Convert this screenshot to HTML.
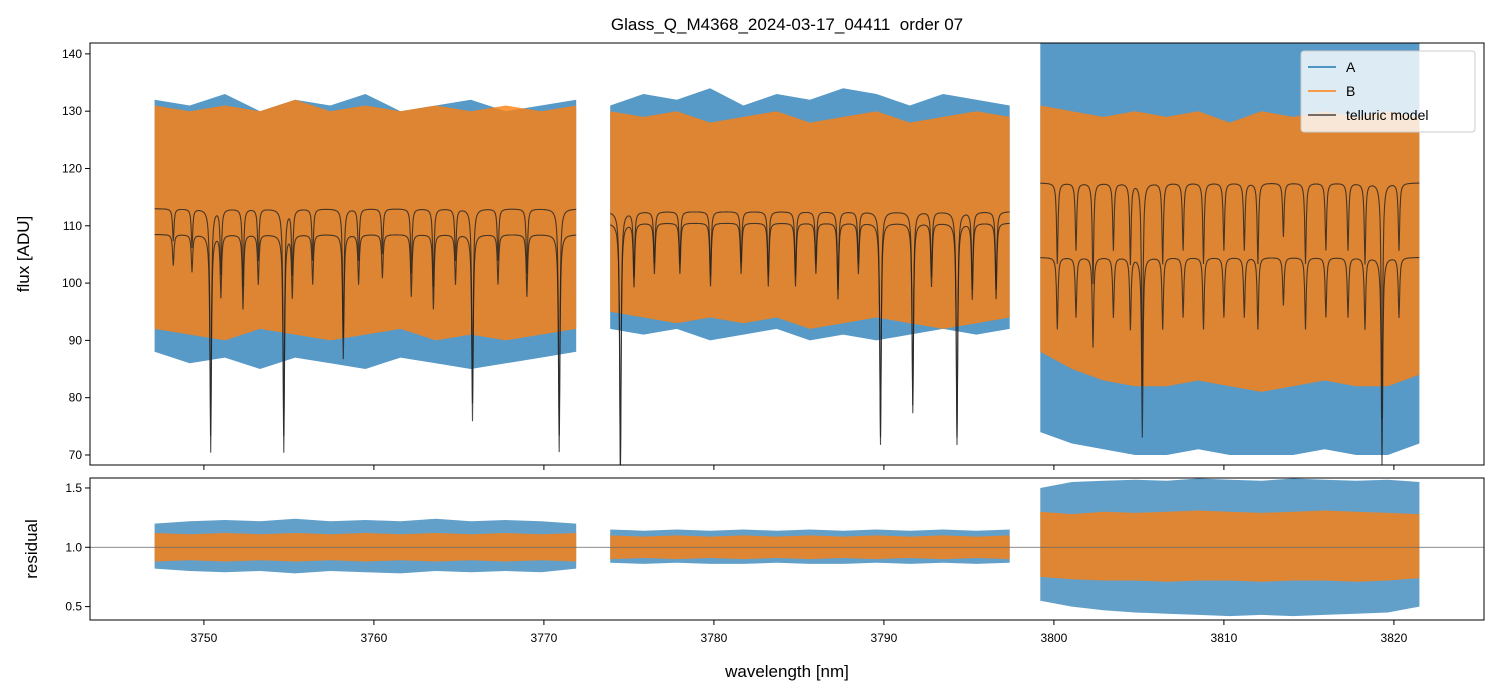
<!DOCTYPE html>
<html><head><meta charset="utf-8"><style>
body{margin:0;background:#fff;}
svg{display:block;font-family:"Liberation Sans","DejaVu Sans",sans-serif;}
</style></head><body>
<svg id="chart" width="1499" height="696" viewBox="0 0 1499 696">
<text x="787" y="30" text-anchor="middle" font-size="17" style="white-space:pre">Glass_Q_M4368_2024-03-17_04411  order 07</text>
<g id="gtop"></g>
<g id="gbot"></g>
<text x="787" y="677" text-anchor="middle" font-size="17">wavelength [nm]</text>
<text transform="translate(29,254) rotate(-90)" text-anchor="middle" font-size="17">flux [ADU]</text>
<text transform="translate(37,549) rotate(-90)" text-anchor="middle" font-size="17">residual</text>
</svg>
<script>
// ---- data (per segment, evenly sampled envelopes) ----
const segments = [[3747.1,3771.9],[3773.9,3797.4],[3799.2,3821.5]];
const fluxAHi = [[132,131,133,130,132,131,133,130,131,132,130,131,132],[131,133,132,134,131,133,132,134,133,131,133,132,131],[142,142,142,142,142,142,142,142,142,142,142,142,142]];
const fluxALo = [[88,86,87,85,87,86,85,87,86,85,86,87,88],[92,91,92,90,91,92,90,91,90,91,92,91,92],[74,72,71,70,70,71,70,70,70,71,70,70,72]];
const fluxBHi = [[131,130,131,130,132,130,131,130,131,130,131,130,131],[130,129,130,128,129,130,128,129,130,128,129,130,129],[131,130,129,130,129,130,128,130,129,130,129,130,129]];
const fluxBLo = [[92,91,90,92,91,90,91,92,90,91,90,91,92],[95,94,93,94,93,94,92,93,94,93,92,93,94],[88,85,83,82,82,83,82,81,82,83,82,82,84]];
const resAHi = [[1.2,1.22,1.23,1.22,1.24,1.22,1.23,1.22,1.24,1.22,1.23,1.22,1.2],[1.15,1.14,1.15,1.14,1.15,1.14,1.15,1.14,1.15,1.14,1.15,1.14,1.15],[1.5,1.55,1.56,1.57,1.56,1.58,1.57,1.56,1.58,1.57,1.56,1.57,1.55]];
const resALo = [[0.82,0.8,0.79,0.8,0.78,0.8,0.79,0.78,0.8,0.79,0.8,0.79,0.82],[0.87,0.86,0.87,0.86,0.86,0.87,0.86,0.86,0.87,0.86,0.87,0.86,0.87],[0.55,0.5,0.47,0.45,0.44,0.43,0.42,0.43,0.42,0.43,0.44,0.45,0.5]];
const resBHi = [[1.12,1.11,1.12,1.11,1.12,1.11,1.12,1.11,1.12,1.11,1.12,1.11,1.12],[1.1,1.09,1.1,1.09,1.1,1.09,1.1,1.09,1.1,1.09,1.1,1.09,1.1],[1.3,1.28,1.3,1.29,1.3,1.31,1.3,1.29,1.3,1.31,1.3,1.29,1.28]];
const resBLo = [[0.88,0.89,0.88,0.89,0.88,0.89,0.88,0.89,0.88,0.89,0.88,0.89,0.88],[0.9,0.91,0.9,0.91,0.9,0.91,0.9,0.91,0.9,0.91,0.9,0.91,0.9],[0.75,0.73,0.72,0.72,0.71,0.72,0.72,0.71,0.72,0.72,0.71,0.72,0.74]];
const lineWl = [3748.2,3749.3,3750.4,3751.0,3752.3,3753.2,3754.7,3755.2,3756.4,3758.2,3759.1,3760.5,3762.2,3763.5,3764.8,3765.8,3767.3,3769.0,3770.9,3774.5,3775.3,3776.5,3778.0,3779.8,3781.6,3783.2,3784.8,3786.0,3787.3,3788.5,3789.8,3791.7,3792.8,3794.3,3795.2,3796.6,3800.2,3801.3,3802.3,3803.5,3804.5,3805.2,3806.4,3807.6,3808.8,3810.0,3811.2,3812.0,3813.5,3814.8,3816.0,3817.3,3818.3,3819.3,3820.3];
const lineDepth = [0.05,0.06,0.35,0.1,0.12,0.08,0.35,0.1,0.08,0.2,0.08,0.07,0.1,0.12,0.08,0.3,0.08,0.1,0.35,0.4,0.1,0.08,0.08,0.1,0.08,0.1,0.1,0.08,0.12,0.08,0.35,0.3,0.1,0.35,0.12,0.12,0.12,0.1,0.15,0.1,0.12,0.3,0.12,0.1,0.12,0.1,0.1,0.12,0.08,0.12,0.1,0.1,0.12,0.35,0.1];
const contA = [108.5,110.5,104.5];
const contB = [113,112.5,117.5];
const xTicks = [3750,3760,3770,3780,3790,3800,3810,3820];
const yTicks = [70,80,90,100,110,120,130,140];
const rTicks = [0.5,1.0,1.5];
// ---- layout ----
const NS = 'http://www.w3.org/2000/svg';
const L = 90, R = 1484, xmin = 3743.3, xmax = 3825.3;
const T1 = 43, B1 = 465, y1min = 68.25, y1max = 141.9;
const T2 = 478, B2 = 620, y2min = 0.387, y2max = 1.584;
const X = w => L + (w - xmin) / (xmax - xmin) * (R - L);
const Y1 = v => B1 - (v - y1min) / (y1max - y1min) * (B1 - T1);
const Y2 = v => B2 - (v - y2min) / (y2max - y2min) * (B2 - T2);
function mk(tag, attrs, parent) { const e = document.createElementNS(NS, tag); for (const k in attrs) e.setAttribute(k, attrs[k]); parent.appendChild(e); return e; }
const gTop = document.getElementById('gtop'), gBot = document.getElementById('gbot');
const defs = mk('defs', {}, document.getElementById('chart'));
const c1 = mk('clipPath', {id: 'c1'}, defs); mk('rect', {x: L, y: T1, width: R - L, height: B1 - T1}, c1);
const c2 = mk('clipPath', {id: 'c2'}, defs); mk('rect', {x: L, y: T2, width: R - L, height: B2 - T2}, c2);
function band(parent, hi, lo, Y, color, name, op) {
  segments.forEach((s, si) => {
    const h = hi[si], l = lo[si], n = h.length;
    const wOf = i => s[0] + i * (s[1] - s[0]) / (n - 1);
    let pts = h.map((v, i) => X(wOf(i)).toFixed(1) + ',' + Y(v).toFixed(1));
    for (let i = n - 1; i >= 0; i--) pts.push(X(wOf(i)).toFixed(1) + ',' + Y(l[i]).toFixed(1));
    const p = mk('polygon', {points: pts.join(' '), fill: color, 'fill-opacity': op, 'clip-path': parent === gTop ? 'url(#c1)' : 'url(#c2)'}, parent);
    
    
  });
}
function model(w, c) { let f = 1; for (let i = 0; i < lineWl.length; i++) { const d = (w - lineWl[i]) / 0.05; f -= lineDepth[i] / (1 + d * d); } return c * Math.max(f, 0.3); }
band(gTop, fluxAHi, fluxALo, Y1, '#1f77b4', 'flux-a-band', 0.75);
band(gTop, fluxBHi, fluxBLo, Y1, '#ff7f0e', 'flux-b-band', 0.8);
segments.forEach((s, si) => {
  [contA[si], contB[si]].forEach((c, k) => {
    let d = '';
    for (let w = s[0]; w <= s[1]; w += 0.02) d += (d ? 'L' : 'M') + X(w).toFixed(1) + ',' + Y1(model(w, c)).toFixed(1);
    const p = mk('path', {d: d, fill: 'none', stroke: '#222', 'stroke-opacity': 0.8, 'stroke-width': 1.1, 'clip-path': 'url(#c1)'}, gTop);
    
    
  });
});
band(gBot, resAHi, resALo, Y2, '#1f77b4', 'residual-a-band', 0.7);
band(gBot, resBHi, resBLo, Y2, '#ff7f0e', 'residual-b-band', 0.8);
mk('line', {x1: L, x2: R, y1: Y2(1), y2: Y2(1), stroke: '#666', 'stroke-width': 0.8}, gBot);
[[T1, B1, gTop], [T2, B2, gBot]].forEach(([t, b, g]) => {
  const f = mk('rect', {x: L, y: t, width: R - L, height: b - t, fill: 'none', stroke: '#000', 'stroke-width': 1}, g);
  
  
  xTicks.forEach(v => mk('line', {x1: X(v), x2: X(v), y1: b, y2: b + 5, stroke: '#000'}, g));
});
xTicks.forEach(v => { const t = mk('text', {x: X(v), y: 642, 'text-anchor': 'middle', 'font-size': 12}, gBot); t.textContent = v;   });
yTicks.forEach(v => { mk('line', {x1: L - 5, x2: L, y1: Y1(v), y2: Y1(v), stroke: '#000'}, gTop); const t = mk('text', {x: L - 8, y: Y1(v) + 4, 'text-anchor': 'end', 'font-size': 12}, gTop); t.textContent = v;   });
rTicks.forEach(v => { mk('line', {x1: L - 5, x2: L, y1: Y2(v), y2: Y2(v), stroke: '#000'}, gBot); const t = mk('text', {x: L - 8, y: Y2(v) + 4, 'text-anchor': 'end', 'font-size': 12}, gBot); t.textContent = v.toFixed(1);   });
const lg = mk('g', {}, gTop);


mk('rect', {x: 1301, y: 51, width: 174, height: 81, fill: '#fff', 'fill-opacity': 0.8, stroke: '#ccc', rx: 3}, lg);
[['A', '#1f77b4'], ['B', '#ff7f0e'], ['telluric model', '#444']].forEach((e, i) => {
  const y = 67 + i * 24;
  mk('line', {x1: 1308, x2: 1336, y1: y, y2: y, stroke: e[1], 'stroke-width': 1.5}, lg);
  const t = mk('text', {x: 1346, y: y + 5, 'font-size': 14}, lg); t.textContent = e[0];
  
  
});
</script>
</body></html>
